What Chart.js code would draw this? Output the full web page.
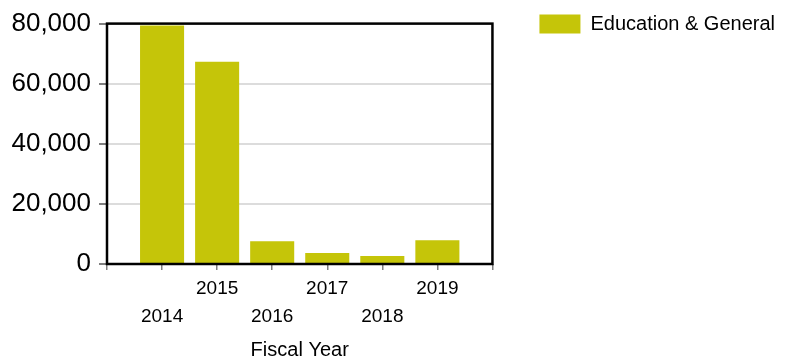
<!DOCTYPE html>
<html>
<head>
<meta charset="utf-8">
<title>Education & General by Fiscal Year</title>
<script src="https://cdn.jsdelivr.net/npm/chart.js@4"></script>
<style>
  html, body { margin: 0; padding: 0; background: #fff; }
  #chart { display: block; }
</style>
</head>
<body>
<canvas id="chart" width="786" height="364"></canvas>
<script>
// ── Data ──────────────────────────────────────────────────────────────────────
const years      = [2014, 2015, 2016, 2017, 2018, 2019];
const egValues   = [79400, 67300, 7600, 3700, 2700, 7900];
const seriesName = 'Education & General';
const xRange     = [2013, 2020];
const yRange     = [0, 80000];
const yStep      = 20000;

const BAR_COLOR = '#c5c509';
const FONT = '"Liberation Sans", Arial, sans-serif';

// black frame round the plot area
const plotFrame = {
  id: 'plotFrame',
  afterDatasetsDraw(chart) {
    const { ctx, chartArea: a } = chart;
    ctx.save();
    ctx.strokeStyle = '#000';
    ctx.lineWidth = 2.5;
    ctx.strokeRect(a.left, a.top, a.right - a.left, a.bottom - a.top);
    ctx.restore();
  }
};

// even years sit on a second row under the odd ones
function yearLabel(v) {
  if (v <= xRange[0] || v >= xRange[1]) return '';
  return v % 2 ? String(v) : ['', String(v)];
}

new Chart(document.getElementById('chart'), {
  type: 'bar',
  data: {
    datasets: [{
      label: seriesName,
      data: years.map((y, i) => ({ x: y, y: egValues[i] })),
      backgroundColor: BAR_COLOR,
      borderWidth: 0,
      categoryPercentage: 0.8,
      barPercentage: 1,
    }]
  },
  options: {
    responsive: false,
    animation: false,
    layout: { padding: { left: 0, right: 1, top: 0, bottom: 0 } },
    plugins: {
      tooltip: { enabled: false },
      // spacer above the plot (keeps legend at the very top)
      title: { display: true, text: '', fullSize: false, padding: 0,
               font: { size: 20, lineHeight: 1 } },
      legend: {
        position: 'right',
        align: 'start',
        maxWidth: 320,
        labels: {
          boxWidth: 41, boxHeight: 19, padding: 14,
          color: '#000',
          font: { family: FONT, size: 20 },
        }
      }
    },
    scales: {
      x: {
        type: 'linear',
        min: xRange[0], max: xRange[1],
        offset: false,
        border: { display: false },
        grid: { offset: false, drawOnChartArea: false, tickLength: 6, tickColor: '#7f7f7f', lineWidth: 1.5 },
        ticks: {
          stepSize: 1, autoSkip: false, maxRotation: 0, padding: 5,
          color: '#000',
          font: { family: FONT, size: 19, lineHeight: 1.47 },
          callback: yearLabel,
        },
        title: {
          display: true, text: 'Fiscal Year', color: '#000',
          padding: { top: 0, bottom: 2 },
          font: { family: FONT, size: 20, lineHeight: 1.2 },
        },
        afterFit(s) { s.height = 100; }
      },
      y: {
        min: yRange[0], max: yRange[1],
        border: { display: false },
        grid: { color: '#dcdcdc', lineWidth: 2, tickLength: 8, tickColor: '#7f7f7f' },
        ticks: {
          stepSize: yStep, padding: 8, color: '#000',
          font: { family: FONT, size: 26 },
          callback: v => v.toLocaleString('en-US'),
        },
        afterFit(s) { s.width = 107; }
      },
      // empty right-hand box: gap between plot and legend
      gap: {
        type: 'linear', position: 'right', display: true,
        border: { display: false },
        grid: { display: false },
        ticks: { display: false },
        afterFit(s) { s.width = 33; }
      }
    }
  },
  plugins: [plotFrame]
});
</script>
</body>
</html>
